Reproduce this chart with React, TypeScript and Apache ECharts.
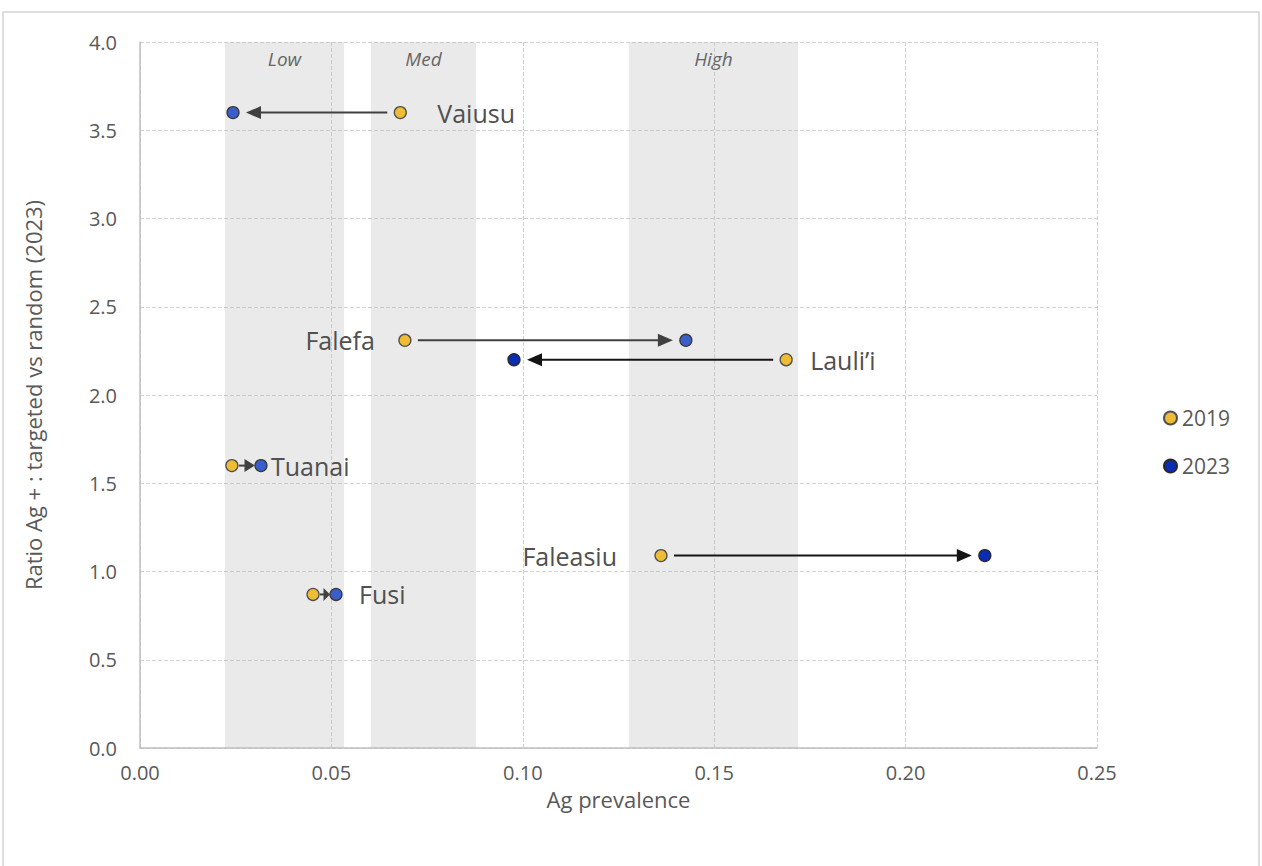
import React, { useEffect, useRef } from "react";
import * as echarts from "echarts";

// ---- data ----
const VILLAGES = ["Vaiusu", "Falefa", "Lauli\u2019i", "Tuanai", "Fusi", "Faleasiu"];
const PREV_2019 = [0.068, 0.0692, 0.1688, 0.024, 0.0452, 0.1361];
const PREV_2023 = [0.0243, 0.1426, 0.0977, 0.0316, 0.0512, 0.2207];
const RATIO = [3.6, 2.31, 2.2, 1.6, 0.87, 1.09];
const BAND_NAMES = ["Low", "Med", "High"];
const BAND_FROM = [0.0222, 0.0603, 0.1277];
const BAND_TO = [0.0533, 0.0878, 0.1719];
const SERIES_NAMES = ["2019", "2023"];

// ---- styles (kept apart from data) ----
const LABEL_DX = [37, -30, 24, 10, 23, -44];
const LABEL_FROM_2023 = [false, false, false, true, true, false];
const DARK_2023 = [false, false, true, false, false, true];

const FONT = "'Open Sans', 'Noto Sans', sans-serif";

export default function App() {
  const ref = useRef<HTMLDivElement>(null);
  useEffect(() => {
    if (!ref.current) return;
    const chart = echarts.init(ref.current, null, { renderer: "svg" });
    const option: any = {
      animation: false,
      backgroundColor: "#ffffff",
      textStyle: { fontFamily: FONT },
      graphic: [
        {
          type: "rect",
          shape: { x: 3, y: 12, width: 1256, height: 900 },
          style: { fill: "none", stroke: "#d4d4d4", lineWidth: 1.5 },
          silent: true,
        },
      ],
      grid: { left: 140, right: 165, top: 42, bottom: 118 },
      legend: {
        data: SERIES_NAMES,
        orient: "vertical",
        left: 1158,
        top: 402,
        itemWidth: 13,
        itemHeight: 13,
        itemGap: 26,
        icon: "circle",
        textStyle: { fontSize: 21, color: "#595959", fontFamily: FONT, lineHeight: 22 },
      },
      xAxis: {
        type: "value",
        min: 0,
        max: 0.25,
        interval: 0.05,
        name: "Ag prevalence",
        nameLocation: "middle",
        nameGap: 40,
        nameTextStyle: { fontSize: 22, color: "#595959", fontFamily: FONT },
        axisLine: { show: true, lineStyle: { color: "#bfbfbf", width: 1.5 } },
        axisTick: { show: false },
        axisLabel: {
          formatter: (v: number) => v.toFixed(2),
          fontSize: 20,
          color: "#595959",
          margin: 14,
          fontFamily: FONT,
        },
        splitLine: { show: true, lineStyle: { color: "#d0d0d0", type: [4, 2], width: 1 } },
      },
      yAxis: {
        type: "value",
        min: 0,
        max: 4,
        interval: 0.5,
        name: "Ratio Ag + : targeted vs random (2023)",
        nameLocation: "middle",
        nameGap: 96,
        nameTextStyle: { fontSize: 22, color: "#595959", fontFamily: FONT },
        axisLine: { show: true, lineStyle: { color: "#bfbfbf", width: 1.5 } },
        axisTick: { show: false },
        axisLabel: {
          formatter: (v: number) => v.toFixed(1),
          fontSize: 20,
          color: "#595959",
          margin: 23,
          fontFamily: FONT,
        },
        splitLine: { show: true, lineStyle: { color: "#d0d0d0", type: [4, 2], width: 1 } },
      },
      series: [
        {
          type: "custom",
          name: "arrows",
          coordinateSystem: "cartesian2d",
          silent: true,
          z: 3,
          data: VILLAGES.map((_, i) => [PREV_2019[i], PREV_2023[i], RATIO[i], i]),
          encode: { x: [0, 1], y: 2 },
          markArea: {
            silent: true,
            itemStyle: { color: "rgba(185,185,185,0.3)" },
            label: {
              show: true,
              position: "insideTop",
              distance: 7,
              fontStyle: "italic",
              fontSize: 19,
              color: "#666666",
              fontFamily: FONT,
            },
            data: BAND_NAMES.map((n, i) => [
              { name: n, xAxis: BAND_FROM[i], yAxis: 4 },
              { xAxis: BAND_TO[i], yAxis: 0 },
            ]),
          },
          renderItem: (params: any, api: any) => {
            const i = api.value(3);
            const y = api.value(2);
            const p0 = api.coord([api.value(0), y]);
            const p1 = api.coord([api.value(1), y]);
            const dx = p1[0] - p0[0];
            const dir = dx >= 0 ? 1 : -1;
            const len = Math.abs(dx);
            const r = 6;
            const gapS = len > 60 ? 7 : 1;
            const gapE = len > 60 ? 7 : 0;
            const sx = p0[0] + dir * (r + gapS);
            const tx = p1[0] - dir * (r + gapE);
            const headLen = Math.min(15, Math.abs(tx - sx) * 0.65);
            const hw = 6.5;
            const bx = tx - dir * headLen;
            const py = p0[1];
            const color = DARK_2023[i] ? "#141414" : "#404040";
            const anchor = LABEL_FROM_2023[i] ? p1[0] : p0[0];
            const lx = anchor + LABEL_DX[i];
            return {
              type: "group",
              children: [
                {
                  type: "line",
                  shape: { x1: sx, y1: py, x2: bx + dir * 2, y2: py },
                  style: { stroke: color, lineWidth: 2 },
                },
                {
                  type: "polygon",
                  shape: { points: [[tx, py], [bx, py - hw], [bx, py + hw]] },
                  style: { fill: color },
                },
                {
                  type: "text",
                  x: lx,
                  y: py,
                  style: {
                    text: VILLAGES[i],
                    fontSize: 25,
                    fill: "#505050",
                    fontFamily: FONT,
                    align: LABEL_DX[i] < 0 ? "right" : "left",
                    verticalAlign: "middle",
                  },
                },
              ],
            };
          },
        },
        {
          type: "scatter",
          name: "2019",
          z: 4,
          symbol: "circle",
          symbolSize: 12,
          itemStyle: { color: "#efbd33", borderColor: "#505050", borderWidth: 1.3, opacity: 1 },
          data: PREV_2019.map((x, i) => [x, RATIO[i]]),
        },
        {
          type: "scatter",
          name: "2023",
          z: 4,
          symbol: "circle",
          symbolSize: 12,
          itemStyle: { color: "#0a2db5", borderColor: "#2a2a2a", borderWidth: 1.3, opacity: 1 },
          data: PREV_2023.map((x, i) =>
            DARK_2023[i]
              ? { value: [x, RATIO[i]] }
              : { value: [x, RATIO[i]], itemStyle: { color: "#3a5fcc", borderColor: "#3a3a3a" } }
          ),
        },
      ],
    };
    chart.setOption(option);
    return () => chart.dispose();
  }, []);
  return (
    <div
      ref={ref}
      style={{ position: "fixed", left: 0, top: 0, width: 1262, height: 866, background: "#fff" }}
    />
  );
}
